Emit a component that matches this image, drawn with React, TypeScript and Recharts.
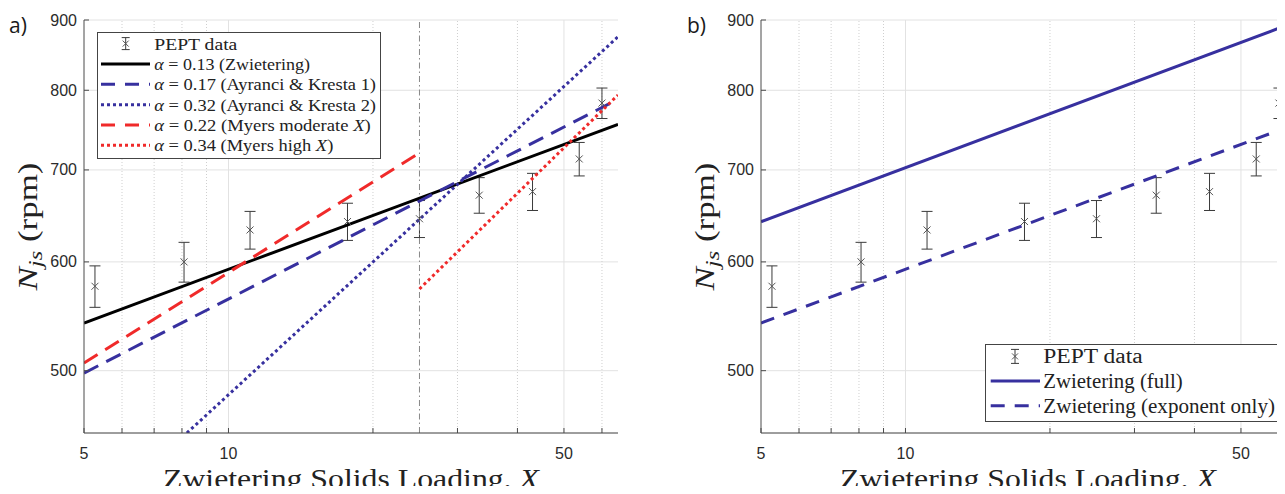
import React from "react";
import {
  ComposedChart,
  Line,
  Scatter,
  ErrorBar,
  XAxis,
  YAxis,
  CartesianGrid,
  ReferenceLine,
  Legend,
} from "recharts";

// PEPT measurements (same in both panels)
const peptX = [5.27, 8.08, 11.09, 17.7, 25.0, 33.3, 43.0, 53.8, 60.0];
const peptN = [576, 600, 633, 642, 645, 671, 675, 713, 783];
const peptErr = [20, 20, 20, 20, 20, 20, 21, 20, 20];

// panel a: end points of each correlation (straight on log-log axes)
const zwieteringX = [5, 64.8];
const zwieteringN = [541.6, 755.6];
const ayranci1X = [5, 64.8];
const ayranci1N = [498, 788];
const ayranci2X = [8.19, 64.8];
const ayranci2N = [450.4, 875];
const myersModX = [5, 25];
const myersModN = [506.4, 720.4];
const myersHighX = [25, 64.8];
const myersHighN = [573.4, 793.7];
const transitionX = 25;

// panel b
const fullX = [5, 60];
const fullN = [641.8, 887.7];
const expOnlyX = [5, 64.8];
const expOnlyN = [541.6, 755.6];

// axes
const xDomain = [5, 64.8];
const yDomain = [450.4, 900];
const xTicks = [5, 6, 7, 8, 9, 10, 20, 30, 40, 50, 60];
const xTickLabels = [5, 10, 50];
const xMajorGrid = [10, 50];
const xMinorGrid = [6, 7, 8, 9, 20, 30, 40, 60];
const yTicks = [500, 600, 700, 800, 900];

// legend text
const legendAlpha = ["0.13", "0.17", "0.32", "0.22", "0.34"];
const legendSource = ["Zwietering", "Ayranci & Kresta 1", "Ayranci & Kresta 2", "Myers moderate ", "Myers high "];
const legendSourceX = [false, false, false, true, true];
const legendB = ["PEPT data", "Zwietering (full)", "Zwietering (exponent only)"];

const BLUE = "#37309f";
const RED = "#f02a2a";
const AXIS = "#4a4a4a";
const GRID = "#e2e2e2";
const ERR = "#3a3a3a";
const serif: React.CSSProperties = { fontFamily: '"Liberation Serif", "Times New Roman", serif' };
const sans: React.CSSProperties = { fontFamily: '"Liberation Sans", Arial, sans-serif' };

const pts = (xs: number[], ys: number[]) => xs.map((x, i) => ({ x, y: ys[i] }));
const peptData = peptX.map((x, i) => ({ x, y: peptN[i], err: peptErr[i] }));

const XTick = (p: any) => {
  const v = p.payload.value;
  return (
    <g>
      <line x1={p.x} y1={p.y} x2={p.x} y2={p.y - 5} stroke={AXIS} />
      {xTickLabels.includes(v) && (
        <text x={p.x} y={p.y + 20} textAnchor="middle" dominantBaseline="central" style={sans} fontSize={16} fill="#2b2b2b">
          {v}
        </text>
      )}
    </g>
  );
};

const YTick = (p: any) => (
  <g>
    <line x1={p.x} y1={p.y} x2={p.x + 5} y2={p.y} stroke={AXIS} />
    <text x={p.x - 7} y={p.y} textAnchor="end" dominantBaseline="central" style={sans} fontSize={16} fill="#2b2b2b">
      {p.payload.value}
    </text>
  </g>
);

const XLabel = (p: any) => {
  const vb = p.viewBox;
  return (
    <text x={vb.x + vb.width / 2} y={vb.y + 55} textAnchor="middle" style={serif} fontSize={27} fill="#222" textLength={376} lengthAdjust="spacingAndGlyphs">
      Zwietering Solids Loading, <tspan fontStyle="italic">X</tspan>
    </text>
  );
};

const YLabel = (p: any) => {
  const vb = p.viewBox;
  const cx = 37;
  const cy = vb.y + vb.height / 2;
  return (
    <text x={cx} y={cy} transform={`rotate(-90, ${cx}, ${cy})`} textAnchor="middle" style={serif} fontSize={27} fill="#222" textLength={128} lengthAdjust="spacingAndGlyphs">
      <tspan fontStyle="italic">N</tspan>
      <tspan fontStyle="italic" fontSize={19} dy={5}>js</tspan>
      <tspan dy={-5}> (rpm)</tspan>
    </text>
  );
};

const Cross = (p: any) => {
  const s = 3.5;
  return (
    <path
      d={`M${p.cx - s},${p.cy - s}L${p.cx + s},${p.cy + s}M${p.cx - s},${p.cy + s}L${p.cx + s},${p.cy - s}`}
      stroke="#555"
      strokeWidth={1}
      fill="none"
    />
  );
};

const PeptIcon = ({ cx, cy, h }: { cx: number; cy: number; h: number }) => (
  <g stroke={ERR} strokeWidth={1} fill="none">
    <line x1={cx} y1={cy - h} x2={cx} y2={cy + h} />
    <line x1={cx - 4} y1={cy - h} x2={cx + 4} y2={cy - h} />
    <line x1={cx - 4} y1={cy + h} x2={cx + 4} y2={cy + h} />
    <path d={`M${cx - 3},${cy - 3}L${cx + 3},${cy + 3}M${cx - 3},${cy + 3}L${cx + 3},${cy - 3}`} stroke="#555" />
  </g>
);

const legendAStyles = [
  { color: "#000", dash: undefined },
  { color: BLUE, dash: "14 10" },
  { color: BLUE, dash: "3 3" },
  { color: RED, dash: "14 10" },
  { color: RED, dash: "3 3" },
];
const legendAWidths = [83, 155.7, 221.7, 221.7, 216.4, 179];

const LegendA = () => {
  const row = (i: number) => 11.6 + i * 20.35;
  return (
    <svg width={285} height={128} style={{ display: "block" }}>
      <rect x={0.5} y={0.5} width={283} height={126} fill="#fff" stroke="#444" />
      <PeptIcon cx={28.7} cy={row(0)} h={6} />
      <text x={57.3} y={row(0)} dominantBaseline="central" style={serif} fontSize={17.5} fill="#222" textLength={legendAWidths[0]} lengthAdjust="spacingAndGlyphs">
        PEPT data
      </text>
      {legendAlpha.map((a, i) => (
        <g key={i}>
          <line x1={4} y1={row(i + 1)} x2={53} y2={row(i + 1)} stroke={legendAStyles[i].color} strokeWidth={3} strokeDasharray={legendAStyles[i].dash} />
          <text x={57.3} y={row(i + 1)} dominantBaseline="central" style={serif} fontSize={17.5} fill="#222" textLength={legendAWidths[i + 1]} lengthAdjust="spacingAndGlyphs">
            <tspan fontStyle="italic">α</tspan> = {a} ({legendSource[i]}
            {legendSourceX[i] && <tspan fontStyle="italic">X</tspan>})
          </text>
        </g>
      ))}
    </svg>
  );
};

const legendBStyles = [
  { color: BLUE, dash: undefined },
  { color: BLUE, dash: "14 10" },
];
const legendBWidths = [99.4, 139.4, 231.7];

const LegendB = () => {
  const row = (i: number) => 12.4 + i * 24.65;
  return (
    <svg width={298} height={79} style={{ display: "block" }}>
      <rect x={0.5} y={0.5} width={296} height={77} fill="#fff" stroke="#444" />
      <PeptIcon cx={30} cy={row(0)} h={7} />
      {legendB.map((t, i) => (
        <g key={i}>
          {i > 0 && (
            <line x1={5.7} y1={row(i)} x2={55} y2={row(i)} stroke={legendBStyles[i - 1].color} strokeWidth={3} strokeDasharray={legendBStyles[i - 1].dash} />
          )}
          <text x={58.3} y={row(i)} dominantBaseline="central" style={serif} fontSize={20.5} fill="#222" textLength={legendBWidths[i]} lengthAdjust="spacingAndGlyphs">
            {t}
          </text>
        </g>
      ))}
    </svg>
  );
};

const axes = () => [
  <CartesianGrid key="grid" stroke={GRID} vertical={false} />,
  ...xMajorGrid.map((v) => <ReferenceLine key={`M${v}`} x={v} stroke={GRID} />),
  ...xMinorGrid.map((v) => <ReferenceLine key={`m${v}`} x={v} stroke="#cfcfcf" strokeDasharray="1 2" />),
  <XAxis
    key="x"
    dataKey="x"
    type="number"
    scale="log"
    domain={xDomain}
    ticks={xTicks}
    interval={0}
    allowDataOverflow
    tickSize={0}
    tickMargin={0}
    tick={XTick}
    axisLine={{ stroke: AXIS }}
    height={61}
    label={{ content: XLabel }}
  />,
  <YAxis
    key="y"
    type="number"
    scale="log"
    domain={yDomain}
    ticks={yTicks}
    interval={0}
    allowDataOverflow
    tickSize={0}
    tickMargin={0}
    tick={YTick}
    axisLine={{ stroke: AXIS }}
    width={84}
    label={{ content: YLabel }}
  />,
  <Scatter key="pept" data={peptData} dataKey="y" shape={Cross} isAnimationActive={false}>
    <ErrorBar dataKey="err" direction="y" width={5.5} stroke={ERR} strokeWidth={1} />
  </Scatter>,
];

const margin = { top: 20, right: 22, bottom: 0, left: 0 };

function PanelA() {
  return (
    <ComposedChart width={640} height={494} margin={margin}>
      {axes()}
      <ReferenceLine x={transitionX} stroke="#888" strokeDasharray="6 3 1.5 3" />
      <Line data={pts(zwieteringX, zwieteringN)} dataKey="y" stroke="#000" strokeWidth={3} dot={false} isAnimationActive={false} />
      <Line data={pts(ayranci1X, ayranci1N)} dataKey="y" stroke={BLUE} strokeWidth={3} strokeDasharray="16 9" dot={false} isAnimationActive={false} />
      <Line data={pts(ayranci2X, ayranci2N)} dataKey="y" stroke={BLUE} strokeWidth={3} strokeDasharray="3 3" dot={false} isAnimationActive={false} />
      <Line data={pts(myersModX, myersModN)} dataKey="y" stroke={RED} strokeWidth={3} strokeDasharray="16 9" dot={false} isAnimationActive={false} />
      <Line data={pts(myersHighX, myersHighN)} dataKey="y" stroke={RED} strokeWidth={3} strokeDasharray="3 3" dot={false} isAnimationActive={false} />
      <Legend
        layout="horizontal"
        verticalAlign="middle"
        align="center"
        content={() => <LegendA />}
        wrapperStyle={{ left: 97, top: 32, width: 285, height: 128 }}
      />
    </ComposedChart>
  );
}

function PanelB() {
  return (
    <ComposedChart width={640} height={494} margin={margin}>
      {axes()}
      <Line data={pts(fullX, fullN)} dataKey="y" stroke={BLUE} strokeWidth={3} dot={false} isAnimationActive={false} />
      <Line data={pts(expOnlyX, expOnlyN)} dataKey="y" stroke={BLUE} strokeWidth={3} strokeDasharray="14 10" dot={false} isAnimationActive={false} />
      <Legend
        layout="horizontal"
        verticalAlign="middle"
        align="center"
        content={() => <LegendB />}
        wrapperStyle={{ left: 308, top: 344, width: 298, height: 79 }}
      />
    </ComposedChart>
  );
}

const panelLabel = (left: number): React.CSSProperties => ({
  position: "absolute",
  left,
  top: 13,
  fontFamily: "Open Sans, sans-serif",
  fontSize: 21,
  lineHeight: "24px",
  color: "#1a1a1a",
});

export default function App() {
  return (
    <div style={{ position: "relative", width: 1285, height: 494, margin: -8, overflow: "hidden", background: "#fff" }}>
      <div style={{ position: "absolute", left: 0, top: 0 }}>
        <PanelA />
      </div>
      <div style={{ position: "absolute", left: 677, top: 0 }}>
        <PanelB />
      </div>
      <div style={panelLabel(9)}>a)</div>
      <div style={panelLabel(687)}>b)</div>
    </div>
  );
}
